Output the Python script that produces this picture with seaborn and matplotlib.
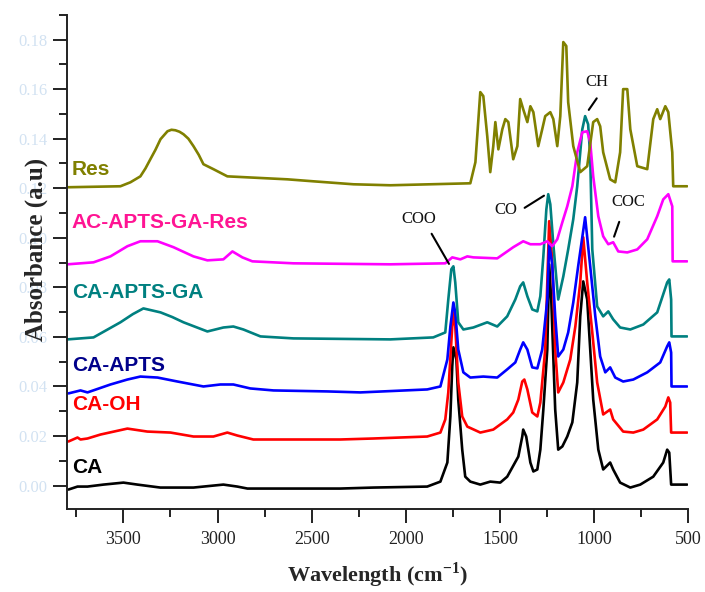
import matplotlib
matplotlib.use("Agg")
import matplotlib.pyplot as plt
from matplotlib.ticker import MultipleLocator, FormatStrFormatter
import pandas as pd
import seaborn as sns

# ---- spectra (wavenumber cm-1, absorbance a.u.) ----
ca_w = [3792, 3744, 3691, 3606, 3500, 3426, 3304, 3128, 2969, 2895, 2841, 2348, 2172, 1886,
        1816, 1779, 1763, 1753, 1747, 1731, 1721, 1700, 1684, 1657, 1604, 1551, 1498,
        1461, 1434, 1402, 1381, 1376, 1360, 1338, 1322, 1301, 1285, 1269, 1248, 1238, 1227, 1206,
        1190, 1168, 1142, 1115, 1089, 1073, 1057, 1036, 1020, 1004, 977, 951, 914, 898, 861,
        807, 754, 685, 632, 611, 600, 590, 505]
ca_a = [-0.0016, -0.0004, -0.0004, 0.0004, 0.0012, 0.0004, -0.0008, -0.0008, 0.0004, -0.0004, -0.0012, -0.0012, -0.0008, -0.0004,
        0.0016, 0.0093, 0.0279, 0.0481, 0.0558, 0.0509, 0.0347, 0.0145, 0.0036, 0.0016, 0.0004, 0.0016, 0.0012,
        0.0036, 0.0073, 0.0117, 0.0198, 0.0226, 0.0198, 0.0093, 0.0057, 0.0065, 0.0145, 0.0307, 0.0550, 0.0893, 0.0751, 0.0307,
        0.0145, 0.0158, 0.0198, 0.0255, 0.0416, 0.0683, 0.0824, 0.0751, 0.0550, 0.0347, 0.0145, 0.0065, 0.0093, 0.0065, 0.0012,
        -0.0008, 0.0004, 0.0036, 0.0093, 0.0145, 0.0133, 0.0004, 0.0004]

caoh_w = [3792, 3744, 3728, 3691, 3622, 3479, 3373, 3250, 3128, 3022, 2948, 2895, 2810, 2348, 2172, 1886,
          1816, 1790, 1774, 1753, 1747, 1737, 1721, 1700, 1673, 1604, 1535, 1461, 1429, 1402, 1381, 1370,
          1354, 1328, 1301, 1285, 1259, 1238, 1222, 1206, 1190, 1163, 1126, 1099, 1073, 1057, 1036,
          1009, 983, 951, 914, 898, 845, 791, 738, 664, 621, 605, 595, 590, 505]
caoh_a = [0.0178, 0.0194, 0.0186, 0.0190, 0.0206, 0.0230, 0.0218, 0.0214, 0.0198, 0.0198, 0.0214, 0.0202, 0.0186, 0.0186, 0.0190, 0.0198,
          0.0214, 0.0267, 0.0376, 0.0642, 0.0699, 0.0642, 0.0416, 0.0279, 0.0238, 0.0214, 0.0226, 0.0267, 0.0295, 0.0347, 0.0420, 0.0428,
          0.0388, 0.0295, 0.0279, 0.0335, 0.0549, 0.1067, 0.0913, 0.0549, 0.0376, 0.0416, 0.0509, 0.0642, 0.0820, 0.1002, 0.0820,
          0.0618, 0.0416, 0.0287, 0.0307, 0.0267, 0.0218, 0.0214, 0.0226, 0.0267, 0.0319, 0.0356, 0.0335, 0.0214, 0.0214]

apts_w = [3792, 3728, 3691, 3569, 3479, 3410, 3319, 3213, 3075, 2985, 2916, 2826, 2703, 2417, 2241, 1886,
          1816, 1779, 1763, 1747, 1737, 1721, 1694, 1657, 1588, 1514, 1461, 1418, 1392, 1376, 1354,
          1328, 1301, 1275, 1248, 1238, 1222, 1206, 1190, 1163, 1137, 1110, 1084, 1047, 1020, 993,
          967, 940, 914, 887, 845, 791, 717, 648, 611, 600, 590, 588, 505]
apts_a = [0.0372, 0.0384, 0.0376, 0.0408, 0.0428, 0.0440, 0.0436, 0.0420, 0.0400, 0.0408, 0.0408, 0.0392, 0.0384, 0.0380, 0.0376, 0.0388,
          0.0400, 0.0509, 0.0642, 0.0739, 0.0699, 0.0549, 0.0457, 0.0436, 0.0440, 0.0436, 0.0469, 0.0497, 0.0549, 0.0578, 0.0549,
          0.0477, 0.0473, 0.0549, 0.0751, 0.0974, 0.0893, 0.0683, 0.0521, 0.0549, 0.0618, 0.0739, 0.0885, 0.1083, 0.0885, 0.0683,
          0.0521, 0.0457, 0.0477, 0.0436, 0.0420, 0.0428, 0.0457, 0.0497, 0.0562, 0.0578, 0.0537, 0.0400, 0.0400]

ga_w = [3797, 3659, 3516, 3450, 3394, 3303, 3240, 3181, 3054, 2969, 2916, 2863, 2772, 2597, 2082, 1854,
        1790, 1774, 1758, 1747, 1737, 1721, 1694, 1641, 1567, 1514, 1461, 1418, 1392, 1376, 1354,
        1328, 1301, 1285, 1269, 1253, 1243, 1232, 1216, 1190, 1163, 1137, 1110, 1089, 1062, 1047,
        1031, 1020, 1009, 983, 951, 924, 898, 861, 807, 738, 664, 611, 600, 590, 588, 505]
ga_a = [0.0590, 0.0598, 0.0659, 0.0692, 0.0715, 0.0699, 0.0680, 0.0659, 0.0622, 0.0638, 0.0642, 0.0630, 0.0602, 0.0594, 0.0590, 0.0598,
        0.0618, 0.0751, 0.0873, 0.0885, 0.0820, 0.0659, 0.0630, 0.0638, 0.0659, 0.0642, 0.0683, 0.0751, 0.0804, 0.0820, 0.0764,
        0.0711, 0.0703, 0.0764, 0.0925, 0.1115, 0.1176, 0.1135, 0.0974, 0.0751, 0.0844, 0.0953, 0.1075, 0.1208, 0.1438, 0.1491,
        0.1458, 0.1329, 0.0953, 0.0723, 0.0683, 0.0703, 0.0671, 0.0638, 0.0630, 0.0650, 0.0699, 0.0820, 0.0832, 0.0751, 0.0602, 0.0602]

gares_w = [3797, 3659, 3569, 3479, 3410, 3319, 3234, 3128, 3054, 2969, 2921, 2868, 2815, 2597, 2082,
           1790, 1753, 1710, 1673, 1641, 1514, 1461, 1429, 1376, 1338, 1285, 1248, 1222, 1195, 1168,
           1142, 1115, 1089, 1062, 1036, 1020, 1004, 977, 951, 924, 898, 871, 823, 770, 717,
           664, 632, 605, 584, 582, 505]
gares_a = [0.0893, 0.0901, 0.0925, 0.0966, 0.0986, 0.0986, 0.0962, 0.0925, 0.0909, 0.0913, 0.0945, 0.0921, 0.0905, 0.0897, 0.0893,
           0.0897, 0.0921, 0.0913, 0.0925, 0.0921, 0.0917, 0.0945, 0.0962, 0.0986, 0.0974, 0.0974, 0.0986, 0.0966, 0.0994, 0.1063,
           0.1127, 0.1208, 0.1345, 0.1426, 0.1430, 0.1386, 0.1248, 0.1087, 0.1006, 0.0974, 0.0982, 0.0945, 0.0941, 0.0953, 0.0994,
           0.1087, 0.1155, 0.1176, 0.1127, 0.0905, 0.0905]

res_w = [3797, 3516, 3463, 3410, 3383, 3357, 3330, 3303, 3266, 3245, 3224, 3202, 3181, 3155, 3128, 3100, 3075, 3022, 2948, 2841, 2629,
         2491, 2278, 2082, 1657, 1630, 1604, 1588, 1567, 1551, 1535, 1524, 1508, 1487, 1471, 1455,
         1429, 1407, 1392, 1376, 1354, 1338, 1322, 1296, 1275, 1259, 1232, 1216, 1195, 1179, 1163,
         1147, 1137, 1110, 1073, 1036, 1004, 983, 967, 951, 914, 887, 861, 845, 823, 807,
         770, 717, 685, 664, 648, 621, 605, 584, 579, 505]
res_a = [0.1204, 0.1208, 0.1224, 0.1248, 0.1280, 0.1317, 0.1355, 0.1398, 0.1430, 0.1436, 0.1434, 0.1428, 0.1418, 0.1400, 0.1370, 0.1335, 0.1297, 0.1277, 0.1248, 0.1244, 0.1236,
         0.1228, 0.1216, 0.1212, 0.1220, 0.1305, 0.1588, 0.1572, 0.1410, 0.1265, 0.1370, 0.1467, 0.1357, 0.1438, 0.1479, 0.1467,
         0.1317, 0.1370, 0.1560, 0.1519, 0.1467, 0.1531, 0.1507, 0.1370, 0.1438, 0.1491, 0.1507, 0.1479, 0.1370, 0.1491, 0.1790,
         0.1774, 0.1547, 0.1370, 0.1265, 0.1289, 0.1467, 0.1479, 0.1450, 0.1345, 0.1236, 0.1224, 0.1345, 0.1600, 0.1600, 0.1438,
         0.1289, 0.1277, 0.1479, 0.1519, 0.1479, 0.1531, 0.1507, 0.1345, 0.1208, 0.1208]

samples = ["CA", "CA-OH", "CA-APTS", "CA-APTS-GA", "AC-APTS-GA-Res", "Res"]
line_colors = ["#000000", "#ff0000", "#0000ff", "#008080", "#ff00ff", "#808000"]
label_colors = ["#000000", "#ff0000", "#00008b", "#008080", "#ff1493", "#808000"]
label_y = [0.0073, 0.0327, 0.0485, 0.078, 0.1063, 0.1277]

# band annotations: text, text position, pointer start, pointer end
band_names = ["COO", "CO", "CH", "COC"]
band_text_xy = [(1933, 0.1075), (1471, 0.1111), (983, 0.1628), (818, 0.1143)]
band_line_from = [(1870, 0.1026), (1381, 0.1115), (977, 0.1572), (861, 0.1075)]
band_line_to = [(1763, 0.0885), (1253, 0.1176), (1036, 0.1507), (898, 0.0994)]

spectra = [(ca_w, ca_a), (caoh_w, caoh_a), (apts_w, apts_a), (ga_w, ga_a), (gares_w, gares_a), (res_w, res_a)]
frames = []
for name, (w, a) in zip(samples, spectra):
    frames.append(pd.DataFrame({"wavenumber": w, "absorbance": a, "sample": name}))
df = pd.concat(frames, ignore_index=True)

sns.set_style("ticks")
plt.rcParams["font.family"] = ["Liberation Serif", "DejaVu Serif"]
plt.rcParams["mathtext.fontset"] = "custom"
plt.rcParams["mathtext.rm"] = "Liberation Serif:bold"
plt.rcParams["mathtext.bf"] = "Liberation Serif:bold"

fig = plt.figure(figsize=(7.05, 5.92), dpi=100)
ax = fig.add_axes([0.095, 0.140, 0.881, 0.835])

sns.lineplot(data=df, x="wavenumber", y="absorbance", hue="sample", hue_order=samples,
             palette=dict(zip(samples, line_colors)), estimator=None, sort=False,
             legend=False, linewidth=1.9, ax=ax)

ax.set_xlim(3800, 500)
ax.set_ylim(-0.0095, 0.19)
for s in ["top", "right"]:
    ax.spines[s].set_visible(False)
for s in ["left", "bottom"]:
    ax.spines[s].set_color("#222222")
    ax.spines[s].set_linewidth(1.4)

ax.xaxis.set_major_locator(MultipleLocator(500))
ax.xaxis.set_minor_locator(MultipleLocator(250))
ax.yaxis.set_major_locator(MultipleLocator(0.02))
ax.yaxis.set_minor_locator(MultipleLocator(0.01))
ax.yaxis.set_major_formatter(FormatStrFormatter("%.2f"))
ax.tick_params(which="major", direction="out", length=10, width=1.4, color="#222222")
ax.tick_params(which="minor", direction="out", length=6, width=1.4, color="#222222")
ax.tick_params(axis="x", labelsize=13, labelcolor="#222222", pad=6)
ax.tick_params(axis="y", labelsize=12, labelcolor="#d2e2f2", pad=4)

ax.set_xlabel("Wavelength (cm$^{-1}$)", fontsize=16, fontweight="bold", labelpad=9)
ax.set_ylabel("Absorbance (a.u)", fontsize=18, fontweight="bold")
ax.yaxis.set_label_coords(-0.031, 0.525)

for name, col, yy in zip(samples, label_colors, label_y):
    ax.text(3775, yy, name, color=col, fontsize=15, fontweight="bold",
            family=["Liberation Sans", "DejaVu Sans"], va="center", ha="left")

for name, txy, p0, p1 in zip(band_names, band_text_xy, band_line_from, band_line_to):
    ax.text(txy[0], txy[1], name, fontsize=12, ha="center", va="center", color="#111111")
    ax.annotate("", xy=p1, xytext=p0, arrowprops=dict(arrowstyle="-", color="black", lw=1.5))

fig.savefig("out.png", dpi=100)
